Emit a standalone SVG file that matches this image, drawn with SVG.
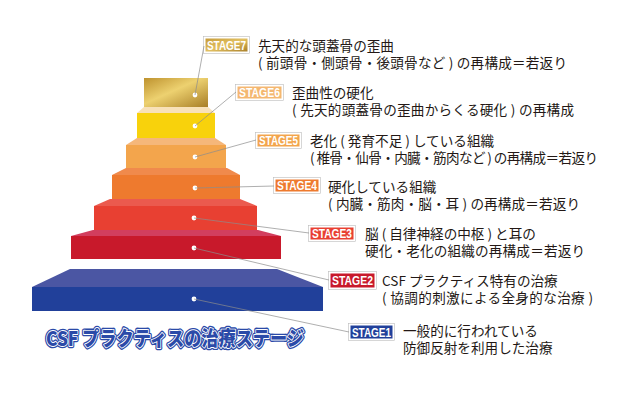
<svg xmlns="http://www.w3.org/2000/svg" width="640" height="400" viewBox="0 0 640 400">
<defs>
<linearGradient id="gold" x1="0" y1="0" x2="1" y2="1">
<stop offset="0" stop-color="#BE922E"/>
<stop offset="0.45" stop-color="#EDD170"/>
<stop offset="1" stop-color="#A87E26"/>
</linearGradient>
<linearGradient id="goldbox" x1="0" y1="0" x2="1" y2="1">
<stop offset="0" stop-color="#C59A38"/>
<stop offset="0.5" stop-color="#E2C061"/>
<stop offset="1" stop-color="#A67C27"/>
</linearGradient>
<style>
.jp{font-family:"Noto Sans CJK JP","Noto Sans",sans-serif;font-size:13.6px;fill:#231815}
.tag{font-family:"Liberation Sans","Roboto",sans-serif;font-weight:bold;font-size:13px;fill:#fff}
.box{stroke:#fff;stroke-width:1}
.boxo{fill:none;stroke:#BBB;stroke-width:0.6}
.dot{fill:#fff}
.ln{stroke:#8C8C8C;stroke-width:0.7;fill:none}
.title{font-family:"Noto Sans CJK JP",sans-serif;font-weight:900;font-size:20px}
</style>
</defs>
<rect width="640" height="400" fill="#fff"/>

<g id="stage1">
<polygon points="70,269 277,269 323,287 32,287" fill="#4B56A3"/>
<rect x="32" y="287" width="291" height="24" fill="#21409A"/>
<circle class="dot" cx="194" cy="299" r="2.4"/>
<rect class="boxo" x="348.5" y="323.5" width="46" height="17"/>
<rect class="box" x="350" y="325" width="43" height="14" fill="#21409A"/>
<text class="tag" x="371.5" y="336.8" text-anchor="middle" textLength="39" lengthAdjust="spacingAndGlyphs">STAGE1</text>
<text class="jp" x="403" y="336">一般的に行われている</text>
<text class="jp" x="403" y="353">防御反射を利用した治療</text>
</g>

<g id="stage2">
<polygon points="93,230 258,230 281,236 71,236" fill="#D23E5E"/>
<rect x="71" y="236" width="210" height="23" fill="#C8192B"/>
<circle class="dot" cx="194" cy="248" r="2.4"/>
<rect class="boxo" x="328.5" y="271.5" width="48" height="18"/>
<rect class="box" x="330" y="273" width="45" height="15" fill="#C8192B"/>
<text class="tag" x="352.5" y="285.3" text-anchor="middle" textLength="41" lengthAdjust="spacingAndGlyphs">STAGE2</text>
<text class="jp" x="382" y="286">CSF プラクティス特有の治療</text>
<text class="jp" x="382" y="303" textLength="211">( 協調的刺激による全身的な治療 )</text>
</g>

<g id="stage3">
<polygon points="110,199 240,199 257,206 94,206" fill="#EB5A4E"/>
<rect x="94" y="206" width="163" height="24" fill="#E84032"/>
<circle class="dot" cx="194" cy="218" r="2.4"/>
<rect class="boxo" x="308.5" y="225.5" width="47" height="16"/>
<rect class="box" x="310" y="227" width="44" height="13" fill="#E84032"/>
<text class="tag" x="332" y="238" text-anchor="middle" textLength="40" lengthAdjust="spacingAndGlyphs">STAGE3</text>
<text class="jp" x="365" y="239">脳 ( 自律神経の中枢 ) と耳の</text>
<text class="jp" x="365" y="256" textLength="220">硬化・老化の組織の再構成＝若返り</text>
</g>

<g id="stage4">
<polygon points="126,168 227,168 240,175 112,175" fill="#F08A4C"/>
<rect x="112" y="175" width="128" height="24" fill="#EE7A2E"/>
<circle class="dot" cx="195" cy="188" r="2.4"/>
<rect class="boxo" x="273.5" y="177.5" width="47" height="16"/>
<rect class="box" x="275" y="179" width="44" height="13" fill="#EE7A2E"/>
<text class="tag" x="297" y="190" text-anchor="middle" textLength="40" lengthAdjust="spacingAndGlyphs">STAGE4</text>
<text class="jp" x="328" y="192">硬化している組織</text>
<text class="jp" x="328" y="209" textLength="252">( 内臓・筋肉・脳・耳 ) の再構成＝若返り</text>
</g>

<g id="stage5">
<polygon points="137,138 215,138 226,145 126,145" fill="#F5B77A"/>
<rect x="126" y="145" width="100" height="23" fill="#F3A54C"/>
<circle class="dot" cx="195" cy="157" r="2.4"/>
<rect class="boxo" x="255.5" y="132.5" width="46" height="16"/>
<rect class="box" x="257" y="134" width="43" height="13" fill="#F3A54C"/>
<text class="tag" x="278.5" y="145" text-anchor="middle" textLength="39" lengthAdjust="spacingAndGlyphs">STAGE5</text>
<text class="jp" x="310" y="146">老化 ( 発育不足 ) している組織</text>
<text class="jp" x="310" y="163" textLength="288">( 椎骨・仙骨・内臓・筋肉など ) の再構成＝若返り</text>
</g>

<g id="stage6">
<polygon points="144,107 208,107 215,113 137,113" fill="#F8E1B8"/>
<rect x="137" y="113" width="78" height="25" fill="#F8D20C"/>
<circle class="dot" cx="195" cy="126" r="2.4"/>
<rect class="boxo" x="235.5" y="84.5" width="48" height="16"/>
<rect class="box" x="237" y="86" width="45" height="13" fill="#F4B770"/>
<text class="tag" x="259.5" y="97" text-anchor="middle" textLength="41" lengthAdjust="spacingAndGlyphs">STAGE6</text>
<text class="jp" x="292" y="98">歪曲性の硬化</text>
<text class="jp" x="292" y="115" textLength="282">( 先天的頭蓋骨の歪曲からくる硬化 ) の再構成</text>
</g>

<g id="stage7">
<rect x="144" y="78" width="64" height="29" fill="url(#gold)"/>
<circle class="dot" cx="195" cy="95" r="2.4"/>
<rect class="boxo" x="203.5" y="36.5" width="46" height="17"/>
<rect class="box" x="205" y="38" width="43" height="14" fill="url(#goldbox)"/>
<text class="tag" x="226.5" y="49.8" text-anchor="middle" textLength="39" lengthAdjust="spacingAndGlyphs">STAGE7</text>
<text class="jp" x="258" y="51">先天的な頭蓋骨の歪曲</text>
<text class="jp" x="258" y="68" textLength="309">( 前頭骨・側頭骨・後頭骨など ) の再構成＝若返り</text>
</g>

<g id="connectors">
<line class="ln" x1="195" y1="95" x2="204" y2="46"/>
<line class="ln" x1="195" y1="126" x2="236" y2="92"/>
<line class="ln" x1="195" y1="157" x2="256" y2="140"/>
<line class="ln" x1="195" y1="188" x2="274" y2="186"/>
<line class="ln" x1="194" y1="218" x2="309" y2="233"/>
<line class="ln" x1="194" y1="248" x2="329" y2="280"/>
<line class="ln" x1="194" y1="299" x2="349" y2="332"/>
</g>

<g id="title">
<text class="title" x="46" y="346" textLength="258" lengthAdjust="spacingAndGlyphs" fill="#2B4AA8" stroke="#2B4AA8" stroke-width="4.5" stroke-linejoin="round">CSF プラクティスの治療ステージ</text>
<text class="title" x="46" y="346" textLength="258" lengthAdjust="spacingAndGlyphs" fill="#2B4AA8" stroke="#fff" stroke-width="1.8" stroke-linejoin="round" paint-order="stroke">CSF プラクティスの治療ステージ</text>
</g>
</svg>
